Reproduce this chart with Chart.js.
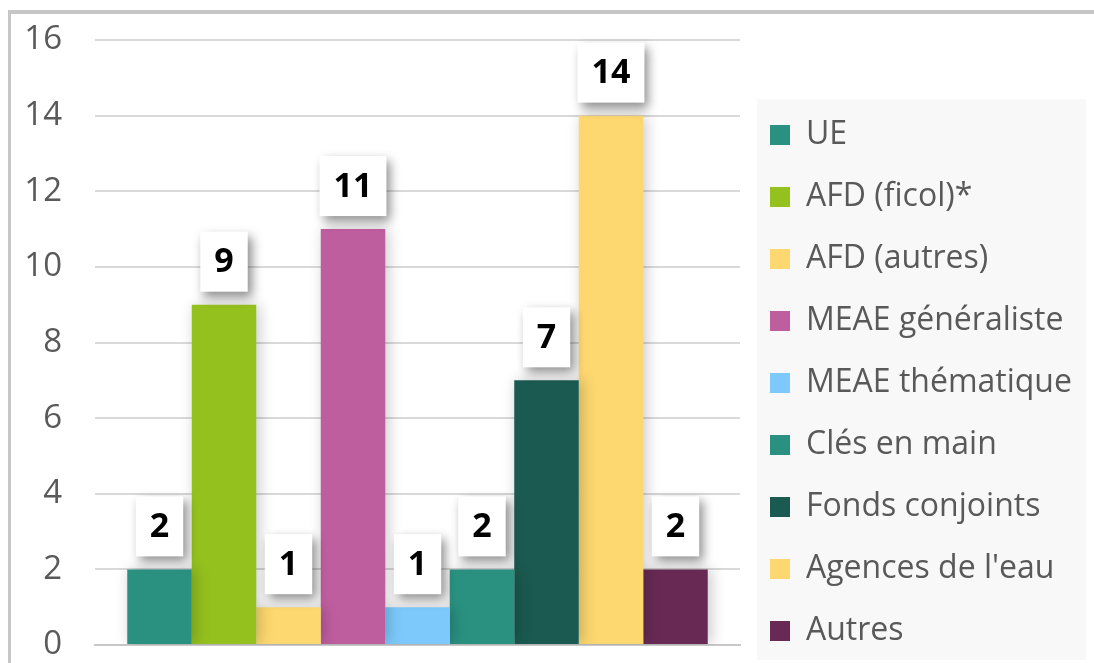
<!DOCTYPE html>
<html lang="fr">
<head>
<meta charset="utf-8">
<script src="https://cdn.jsdelivr.net/npm/chart.js@4.4.1/dist/chart.umd.min.js"></script>
<style>
  html, body { margin: 0; padding: 0; background: #ffffff; overflow: hidden; }
  #cadre {
    position: absolute; left: 8px; top: 10px;
    width: 1083px; height: 663px;
    border-top: 4px solid #c6c6c6;
    border-left: 3px solid #c6c6c6;
  }
</style>
</head>
<body>
<div id="cadre"><canvas id="graphique" width="1083" height="663"></canvas></div>
<script>
  // données du graphique
  const categories = ['UE', 'AFD (ficol)*', 'AFD (autres)', 'MEAE généraliste', 'MEAE thématique',
                      'Clés en main', 'Fonds conjoints', "Agences de l'eau", 'Autres'];
  const valeurs = [2, 9, 1, 11, 1, 2, 7, 14, 2];
  const couleurs = ['#2a9181', '#95c11f', '#fdd870', '#bf5e9f', '#7dc9fc',
                    '#2a9181', '#1b5a50', '#fdd870', '#682a55'];
  const ticksY = [0, 2, 4, 6, 8, 10, 12, 14, 16];

  const POLICE = "'Open Sans', 'Noto Sans', sans-serif";
  const LARGEUR_LEGENDE = 354;

  // une série par barre, comme dans le tableur d'origine
  const datasets = categories.map(function (nom, i) {
    return { label: nom, data: [valeurs[i]], backgroundColor: couleurs[i], borderWidth: 0 };
  });

  // largeur fixe pour la légende + fond gris clair
  const legendeFixe = {
    id: 'legendeFixe',
    beforeLayout: function (chart) {
      const lg = chart.legend;
      if (lg && !lg._fixe) {
        const fitOrig = lg.fit.bind(lg);
        lg.fit = function () { fitOrig(); this.width = LARGEUR_LEGENDE; };
        lg._fixe = true;
      }
    },
    beforeDraw: function (chart) {
      const lg = chart.legend;
      if (!lg) return;
      const ctx = chart.ctx;
      ctx.save();
      ctx.fillStyle = '#f8f8f8';
      ctx.fillRect(lg.left + 17, lg.bottom - 578, lg.width - 25, 561);
      ctx.restore();
    }
  };

  // ombre des barres + étiquettes de valeur dans des cadres blancs
  const etiquettes = {
    id: 'etiquettes',
    beforeDatasetsDraw: function (chart) {
      const ctx = chart.ctx;
      ctx.save();
      ctx.shadowColor = 'rgba(0,0,0,0.22)';
      ctx.shadowBlur = 14;
      ctx.shadowOffsetX = 3;
      ctx.shadowOffsetY = 0;
    },
    afterDatasetsDraw: function (chart) {
      const ctx = chart.ctx;
      ctx.restore();
      ctx.save();
      ctx.font = 'bold 34px ' + POLICE;
      chart.data.datasets.forEach(function (ds, i) {
        const el = chart.getDatasetMeta(i).data[0];
        const txt = String(ds.data[0]);
        const w = ctx.measureText(txt).width + 28;
        const h = 60;
        const x = el.x - w / 2;
        const y = el.y - 13 - h;
        ctx.save();
        ctx.shadowColor = 'rgba(0,0,0,0.45)';
        ctx.shadowBlur = 10;
        ctx.shadowOffsetX = 4;
        ctx.shadowOffsetY = 5;
        ctx.fillStyle = '#ffffff';
        ctx.fillRect(x, y, w, h);
        ctx.restore();
        ctx.fillStyle = '#000000';
        ctx.textAlign = 'center';
        ctx.textBaseline = 'middle';
        ctx.fillText(txt, el.x, y + h / 2 + 1);
      });
      ctx.restore();
    }
  };

  window.onload = function () {
    const ctx = document.getElementById('graphique').getContext('2d');
    new Chart(ctx, {
      type: 'bar',
      data: { labels: [''], datasets: datasets },
      options: {
        responsive: false,
        animation: false,
        layout: { padding: { top: 26, right: 0, bottom: 0, left: 0 } },
        datasets: { bar: { categoryPercentage: 0.9, barPercentage: 1.0 } },
        scales: {
          x: {
            grid: { display: false },
            border: { display: true, color: '#c8c8c8', width: 2 },
            ticks: { display: false },
            afterFit: function (s) { s.height = 32; }
          },
          y: {
            min: 0,
            max: 16,
            afterBuildTicks: function (s) { s.ticks = ticksY.map(function (v) { return { value: v }; }); },
            grid: { color: '#d9d9d9', lineWidth: 2, drawTicks: false },
            border: { display: false },
            ticks: { color: '#595959', padding: 33, font: { family: POLICE, size: 33 } },
            afterFit: function (s) {
              s.width = 84;
              s.paddingTop = 0;
              s.paddingBottom = 0;
            }
          }
        },
        plugins: {
          tooltip: { enabled: false },
          legend: {
            display: true,
            position: 'right',
            align: 'end',
            labels: {
              color: '#595959',
              boxWidth: 20,
              boxHeight: 20,
              padding: 30,
              font: { family: POLICE, size: 32 }
            }
          }
        }
      },
      plugins: [legendeFixe, etiquettes]
    });
  };
</script>
</body>
</html>
